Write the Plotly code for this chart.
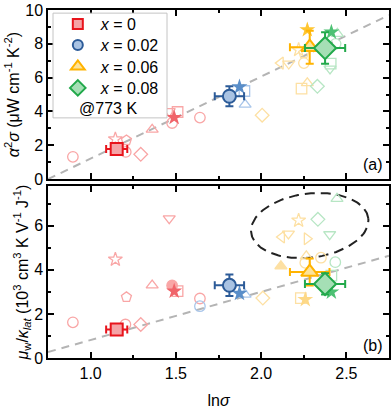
import numpy as np
import plotly.graph_objects as go

# ---------------- data ----------------
group_names = ["<i>x</i> = 0", "<i>x</i> = 0.02", "<i>x</i> = 0.06", "<i>x</i> = 0.08"]
main_symbols = ["square", "circle", "triangle-up", "diamond"]

# this work (with error bars)
main_lnsig = [1.153, 1.814, 2.285, 2.375]
main_lnsig_err = [0.062, 0.086, 0.116, 0.118]
main_pf = [1.78, 4.90, 7.80, 7.75]
main_pf_err = [0.0, 0.59, 0.98, 0.93]
main_ratio = [1.29, 3.30, 3.90, 3.36]
main_ratio_err = [0.0, 0.49, 0.61, 0.48]

# filled stars
star_lnsig_a = [1.490, 1.873, 2.271, 2.412]
star_pf = [3.64, 5.45, 8.83, 8.69]
star_lnsig_b = [1.490, 1.873, 2.259, 2.412]
star_ratio = [3.03, 2.93, 2.65, 2.99]

# literature points, panel (a)
lit_a_group = [0, 0, 0, 0, 0, 0, 0, 0, 0, 0,
               1, 1,
               2, 2, 2, 2, 2, 2, 2, 2,
               3, 3, 3, 3, 3]
lit_a_symbol = ["circle-open", "star-open", "pentagon-open", "circle-open", "diamond-open",
                "triangle-up-open", "triangle-down-open", "square-open", "circle-open", "circle-open",
                "square-open", "triangle-up-open",
                "diamond-open", "square-open", "triangle-up-open", "triangle-left-open",
                "triangle-down-open", "circle-open", "star-open", "pentagon-open",
                "triangle-up-open", "circle-open", "square-open", "triangle-down-open", "diamond-open"]
lit_a_lnsig = [0.896, 1.145, 1.210, 1.206, 1.294, 1.361, 1.461, 1.510, 1.478, 1.641,
               1.902, 1.906,
               2.006, 2.237, 2.271, 2.114, 2.162, 2.251, 2.220, 2.250,
               2.447, 2.437, 2.408, 2.404, 2.330]
lit_a_pf = [1.32, 2.36, 2.30, 1.61, 1.47, 2.93, 4.01, 3.97, 3.32, 3.64,
            5.21, 4.41,
            3.78, 5.35, 5.68, 6.86, 6.82, 6.86, 7.65, 7.45,
            8.60, 8.00, 6.83, 6.53, 5.49]

# literature points, panel (b)
lit_b_group = [0, 0, 0, 0, 0, 0, 0, 0, 0, 0,
               1, 1,
               2, 2, 2, 2, 2, 2, 2, 2, 2, 2,
               3, 3, 3, 3, 3]
lit_b_symbol = ["circle-open", "star-open", "pentagon-open", "circle-open", "diamond-open",
                "triangle-up-open", "triangle-down-open", "square-open", "circle", "circle-open",
                "circle-open", "triangle-up-open",
                "diamond-open", "square-open", "triangle-up", "triangle-up-open", "circle-open",
                "circle-open", "star-open", "triangle-left-open", "triangle-down-open", "triangle-right-open",
                "square-open", "circle-open", "triangle-up-open", "diamond-open", "triangle-down-open"]
lit_b_lnsig = [0.896, 1.145, 1.210, 1.204, 1.294, 1.361, 1.461, 1.510, 1.478, 1.641,
               1.641, 1.906,
               2.010, 2.233, 2.116, 2.265, 2.351, 2.259, 2.220, 2.121, 2.160, 2.269,
               2.412, 2.435, 2.445, 2.333, 2.402]
lit_b_ratio = [1.62, 4.47, 2.76, 1.52, 1.52, 3.30, 6.33, 3.03, 3.29, 2.70,
               2.35, 2.88,
               2.72, 2.72, 4.17, 4.62, 4.55, 4.32, 6.24, 5.49, 5.64, 5.41,
               3.74, 4.35, 7.23, 6.29, 5.61]

# trend lines
trend_lnsig = [0.75, 2.75]
trend_pf = [0.0, 9.7]
trend_ratio = [0.27, 4.64]

# highlighted region (ellipse) in panel (b)
ell_center = (2.285, 6.01)
ell_semi_px = (59, 32)
ell_tilt_deg = 7

x_ticks = [1.0, 1.5, 2.0, 2.5]
x_range = [0.75, 2.75]
pf_range = [0, 10]
ratio_range = [0, 7.8]

# ---------------- styles ----------------
line_col = ["#e8141c", "#2c5b98", "#ffb300", "#22a94b"]
fill_col = ["#f5a3a6", "#a9c3e3", "#fde39a", "#a5dfb5"]
star_col_a = ["#f0646a", "#5a8ec9", "#ffc631", "#4dc173"]
star_col_b = ["#f0646a", "#5a8ec9", "#fdd886", "#4dc173"]
faded_col = ["#f9a6a6", "#a9c6ea", "#fde0a3", "#b7e6c4"]

W, H = 392, 409
ML, MR, MT, MB = 48, 3, 10, 51
plot_w = W - ML - MR
plot_h = H - MT - MB
dom_a = [0.514, 1.0]
dom_b = [0.0, 0.494]
legend_row_px = [24, 45, 66.5, 88]

FONT = "Liberation Sans, Arial, sans-serif"

fig = go.Figure()

# trend lines
fig.add_trace(go.Scatter(x=trend_lnsig, y=trend_pf, mode="lines", xaxis="x2", yaxis="y2",
                         line=dict(color="#b4b4b4", width=2, dash="8px,6px"),
                         showlegend=False, hoverinfo="skip"))
fig.add_trace(go.Scatter(x=trend_lnsig, y=trend_ratio, mode="lines", xaxis="x", yaxis="y",
                         line=dict(color="#b4b4b4", width=2, dash="8px,6px"),
                         showlegend=False, hoverinfo="skip"))

# ellipse
xpx_per_unit = plot_w / (x_range[1] - x_range[0])
ypx_per_unit = plot_h * (dom_b[1] - dom_b[0]) / (ratio_range[1] - ratio_range[0])
t = np.linspace(0, 2 * np.pi, 200)
th = np.radians(ell_tilt_deg)
a, b = ell_semi_px
dxp = a * np.cos(t) * np.cos(th) - b * np.sin(t) * np.sin(th)
dyp = a * np.cos(t) * np.sin(th) + b * np.sin(t) * np.cos(th)
fig.add_trace(go.Scatter(x=ell_center[0] + dxp / xpx_per_unit, y=ell_center[1] + dyp / ypx_per_unit,
                         mode="lines", xaxis="x", yaxis="y",
                         line=dict(color="#222222", width=2, dash="10px,6px"),
                         showlegend=False, hoverinfo="skip"))


def add_lit(xs, ys, groups, syms, xa, ya):
    for xv, yv, g, s in zip(xs, ys, groups, syms):
        fig.add_trace(go.Scatter(x=[xv], y=[yv], mode="markers", xaxis=xa, yaxis=ya,
                                 marker=dict(symbol=s, size=10.5, color=faded_col[g],
                                             line=dict(color=faded_col[g], width=1.3)),
                                 showlegend=False, hoverinfo="skip"))


add_lit(lit_a_lnsig, lit_a_pf, lit_a_group, lit_a_symbol, "x2", "y2")
add_lit(lit_b_lnsig, lit_b_ratio, lit_b_group, lit_b_symbol, "x", "y")

# stars
for i in range(4):
    fig.add_trace(go.Scatter(x=[star_lnsig_a[i]], y=[star_pf[i]], mode="markers", xaxis="x2", yaxis="y2",
                             marker=dict(symbol="star", size=12, color=star_col_a[i], line=dict(width=0)),
                             showlegend=False, hoverinfo="skip"))
    fig.add_trace(go.Scatter(x=[star_lnsig_b[i]], y=[star_ratio[i]], mode="markers", xaxis="x", yaxis="y",
                             marker=dict(symbol="star", size=12, color=star_col_b[i], line=dict(width=0)),
                             showlegend=False, hoverinfo="skip"))

main_sizes = [12, 13, 15, 17]
for i in range(4):
    for xa, ya, yv, ye in (("x2", "y2", main_pf, main_pf_err), ("x", "y", main_ratio, main_ratio_err)):
        fig.add_trace(go.Scatter(
            x=[main_lnsig[i]], y=[yv[i]], mode="markers", xaxis=xa, yaxis=ya,
            error_x=dict(type="data", array=[main_lnsig_err[i]], color=line_col[i], thickness=2, width=4),
            error_y=dict(type="data", array=[ye[i]], color=line_col[i], thickness=2, width=4,
                         visible=ye[i] > 0),
            marker=dict(symbol=main_symbols[i], size=main_sizes[i], color=fill_col[i],
                        line=dict(color=line_col[i], width=2)),
            showlegend=False, hoverinfo="skip"))

# legend entries, one legend per row so rows can be spaced like the reference
legend_ids = ["legend", "legend2", "legend3", "legend4"]
for i in range(4):
    fig.add_trace(go.Scatter(x=[None], y=[None], mode="markers", xaxis="x2", yaxis="y2",
                             name=group_names[i], legend=legend_ids[i],
                             marker=dict(symbol=main_symbols[i], size=[10, 10, 12, 12][i], color=fill_col[i],
                                         line=dict(color=line_col[i], width=2))))

axis_common = dict(showline=True, linecolor="black", linewidth=1.5, mirror="allticks",
                   ticks="inside", ticklen=6, tickwidth=1.5, tickcolor="black",
                   showgrid=False, zeroline=False, automargin=False,
                   tickfont=dict(family=FONT, size=16, color="black"))

legend_layouts = {}
for i, lid in enumerate(legend_ids):
    legend_layouts[lid] = dict(x=0.02, y=1 - (legend_row_px[i] - MT) / plot_h,
                               xanchor="left", yanchor="middle", bgcolor="rgba(0,0,0,0)",
                               borderwidth=0, font=dict(family=FONT, size=16), itemsizing="trace",
                               itemwidth=36)

fig.update_layout(
    width=W, height=H,
    margin=dict(l=ML, r=MR, t=MT, b=MB, pad=0, autoexpand=False),
    paper_bgcolor="white", plot_bgcolor="white",
    font=dict(family=FONT, size=16, color="black"),
    xaxis=dict(**axis_common, range=x_range, tickvals=x_ticks, ticktext=["1.0", "1.5", "2.0", "2.5"],
               minor=dict(dtick=0.25, tick0=0.75, ticks="inside", ticklen=3, tickwidth=1.5, tickcolor="black"),
               anchor="y", domain=[0, 1],
               title=dict(text="ln<i>σ</i>", standoff=15, font=dict(family=FONT, size=16))),
    xaxis2=dict(**axis_common, range=x_range, tickvals=x_ticks, showticklabels=False,
                minor=dict(dtick=0.25, tick0=0.75, ticks="inside", ticklen=3, tickwidth=1.5, tickcolor="black"),
                anchor="y2", matches="x", domain=[0, 1]),
    yaxis=dict(**axis_common, range=ratio_range, tickvals=[0, 2, 4, 6], domain=dom_b, anchor="x",
               minor=dict(dtick=1, ticks="inside", ticklen=3, tickwidth=1.5, tickcolor="black"),
               title=dict(text="<i>μ</i><sub>w</sub>/<i>κ</i><sub><i>lat</i></sub> (10<sup>3</sup> cm<sup>3</sup> K V<sup>-1</sup> J<sup>-1</sup>)",
                          standoff=2, font=dict(family=FONT, size=16))),
    yaxis2=dict(**axis_common, range=pf_range, tickvals=[0, 2, 4, 6, 8, 10], domain=dom_a, anchor="x2",
                minor=dict(dtick=1, ticks="inside", ticklen=3, tickwidth=1.5, tickcolor="black"),
                title=dict(text="<i>α</i><sup>2</sup><i>σ</i> (μW cm<sup>-1</sup> K<sup>-2</sup>)",
                           standoff=2, font=dict(family=FONT, size=16))),
    **legend_layouts,
    shapes=[dict(type="rect", xref="paper", yref="paper", x0=0.0147, x1=0.349, y0=0.690, y1=0.991,
                 line=dict(color="#c4c4c4", width=1), fillcolor="white", layer="above")],
    annotations=[
        dict(text="@773 K", xref="paper", yref="paper", x=0.176, y=0.716, showarrow=False,
             xanchor="center", yanchor="middle", font=dict(family=FONT, size=16)),
        dict(text="(a)", xref="paper", yref="paper", x=0.953, y=0.555, showarrow=False,
             xanchor="center", yanchor="middle", font=dict(family=FONT, size=16)),
        dict(text="(b)", xref="paper", yref="paper", x=0.953, y=0.037, showarrow=False,
             xanchor="center", yanchor="middle", font=dict(family=FONT, size=16)),
    ],
)

fig.write_html("out.html", config={"displayModeBar": False},
               post_script="document.body.style.margin='0';document.body.style.padding='0';")
